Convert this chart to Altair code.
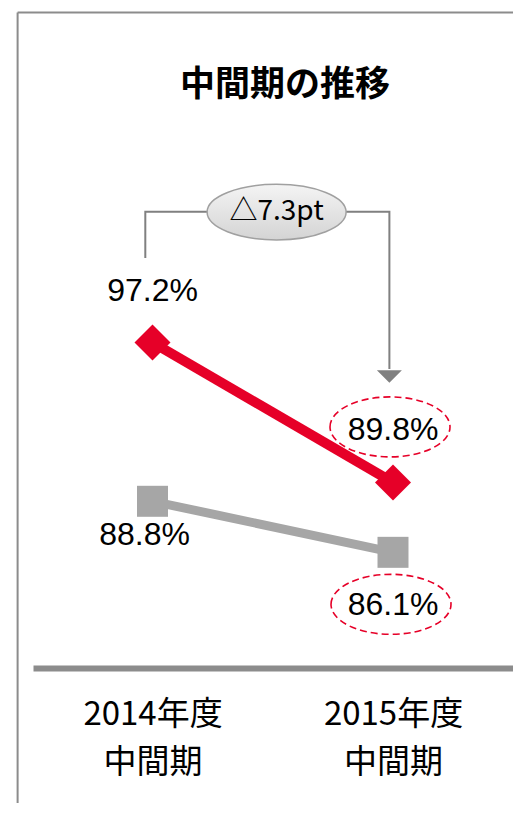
import altair as alt
import pandas as pd

# ---- data ----
title_text = "中間期の推移"
periods = ["2014年度", "2015年度"]
period_sub = "中間期"
red_values = [97.2, 89.8]
gray_values = [88.8, 86.1]
change_label = "△7.3pt"

# ---- styles ----
RED = "#E60028"
GRAY = "#A6A6A6"
DARK = "#808080"
FRAME = "#8C8C8C"
JP = "Noto Sans CJK JP"
NUM = "Liberation Sans Narrow, Liberation Sans, Noto Sans CJK JP"

idx = list(range(len(periods)))
red_df = pd.DataFrame({"i": idx, "v": red_values,
                       "label": [f"{v:.1f}%" for v in red_values]})
gray_df = pd.DataFrame({"i": idx, "v": gray_values,
                        "label": [f"{v:.1f}%" for v in gray_values]})

xs = alt.Scale(domain=[-0.497, 1.499], nice=False, zero=False)
ys = alt.Scale(domain=[79.98, 114.90], nice=False, zero=False)

label_expr = (f"datum.value == 0 ? ['{periods[0]}', '{period_sub}'] : "
              f"['{periods[1]}', '{period_sub}']")
x_axis = alt.Axis(values=idx, labelExpr=label_expr, title=None, ticks=False,
                  grid=False, domainColor=FRAME, domainWidth=6, labelAngle=0,
                  labelFont=JP, labelFontSize=33, labelColor="#000000",
                  labelLineHeight=48, labelPadding=30, labelFlush=False,
                  labelOverlap=False, labelBaseline="top")

def X(field="i"):
    return alt.X(f"{field}:Q", scale=xs, axis=x_axis)

def Y(field="v"):
    return alt.Y(f"{field}:Q", scale=ys, axis=None)

# ---- frame (annotation, in data units) ----
frame_df = pd.DataFrame({"x": [-0.561], "x2": [1.7], "y": [114.66], "y2": [60.0]})
frame_left = alt.Chart(frame_df).mark_rule(color=FRAME, strokeWidth=2).encode(
    x=X("x"), y=Y("y"), y2="y2:Q")
frame_top = alt.Chart(frame_df).mark_rule(color=FRAME, strokeWidth=2).encode(
    x=X("x"), x2="x2:Q", y=Y("y"))

# ---- title ----
title_df = pd.DataFrame({"x": [0.551], "y": [110.82], "t": [title_text]})
title = alt.Chart(title_df).mark_text(font=JP, fontSize=35, fontWeight="bold",
                                      color="#000000", baseline="middle",
                                      align="center").encode(
    x=X("x"), y=Y("y"), text="t:N")

# ---- bracket with change label ----
bracket_df = pd.DataFrame({"x": [-0.03, -0.03, 0.985, 0.985],
                           "y": [101.67, 104.12, 104.12, 95.8],
                           "o": [0, 1, 2, 3]})
bracket = alt.Chart(bracket_df).mark_line(color=DARK, strokeWidth=2).encode(
    x=X("x"), y=Y("y"), order="o:Q")

arrow_df = pd.DataFrame({"x": [0.985], "y": [95.40]})
arrow = alt.Chart(arrow_df).mark_point(
    shape="M -1 -0.5 L 1 -0.5 L 0 0.5 Z", size=625, filled=True,
    fill=DARK, opacity=1, strokeWidth=0).encode(x=X("x"), y=Y("y"))

bubble_df = pd.DataFrame({"x": [0.516], "y": [104.1], "t": [change_label]})
bubble = alt.Chart(bubble_df).mark_point(
    shape="M -1 0 A 1 0.4 0 1 1 1 0 A 1 0.4 0 1 1 -1 0 Z", size=19321,
    filled=True, opacity=1,
    fill=alt.LinearGradient(gradient="linear",
                            stops=[alt.GradientStop(color="#F4F4F4", offset=0),
                                   alt.GradientStop(color="#D4D4D4", offset=1)],
                            x1=0, x2=0, y1=0, y2=1),
    stroke="#A0A0A0", strokeWidth=1.5).encode(x=X("x"), y=Y("y"))
bubble_text = alt.Chart(bubble_df).mark_text(
    font=JP, fontSize=28, color="#000000", baseline="middle",
    align="center").encode(x=X("x"), y=Y("y"), text="t:N")

# ---- dashed ellipses around latest values ----
ell_shape = "M -1 0 A 1 0.5 0 1 1 1 0 A 1 0.5 0 1 1 -1 0 Z"
red_ell = alt.Chart(red_df).transform_filter("datum.i == 1").mark_point(
    shape=ell_shape, size=14400, filled=False, stroke=RED, strokeWidth=1.6,
    strokeDash=[7, 4], opacity=1, yOffset=-55.5, xOffset=-3).encode(
    x=X(), y=Y())
gray_ell = alt.Chart(gray_df).transform_filter("datum.i == 1").mark_point(
    shape=ell_shape, size=14400, filled=False, stroke=RED, strokeWidth=1.6,
    strokeDash=[7, 4], opacity=1, yOffset=52, xOffset=-2).encode(
    x=X(), y=Y())

# ---- series ----
gray_line = alt.Chart(gray_df).mark_line(color=GRAY, strokeWidth=9).encode(
    x=X(), y=Y())
gray_pts = alt.Chart(gray_df).mark_point(shape="square", size=961, filled=True,
                                          color=GRAY, opacity=1).encode(
    x=X(), y=Y())
red_line = alt.Chart(red_df).mark_line(color=RED, strokeWidth=10).encode(
    x=X(), y=Y())
red_pts = alt.Chart(red_df).mark_point(shape="diamond", size=1296, filled=True,
                                        color=RED, opacity=1).encode(
    x=X(), y=Y())

# ---- value labels ----
def vlabel(df, cond, dx, dy):
    return alt.Chart(df).transform_filter(cond).mark_text(
        font=NUM, fontSize=32, color="#000000", baseline="middle",
        align="center", dx=dx, dy=dy).encode(x=X(), y=Y(), text="label:N")

red_labels = vlabel(red_df, "true", 0, -52)
gray_lab0 = vlabel(gray_df, "datum.i == 0", -8, 34)
gray_lab1 = vlabel(gray_df, "datum.i == 1", 0, 53)

chart = alt.layer(
    frame_left, frame_top, bracket, bubble, bubble_text, arrow,
    red_ell, gray_ell, gray_line, gray_pts, red_line, red_pts,
    red_labels, gray_lab0, gray_lab1, title,
).properties(
    width=480, height=660,
    autosize=alt.AutoSizeParams(type="none"),
    padding={"left": 25, "top": 0, "right": 0, "bottom": 135},
    background="white",
).configure_view(stroke=None)

chart.save("out.html", embed_options={"renderer": "svg", "actions": False})
